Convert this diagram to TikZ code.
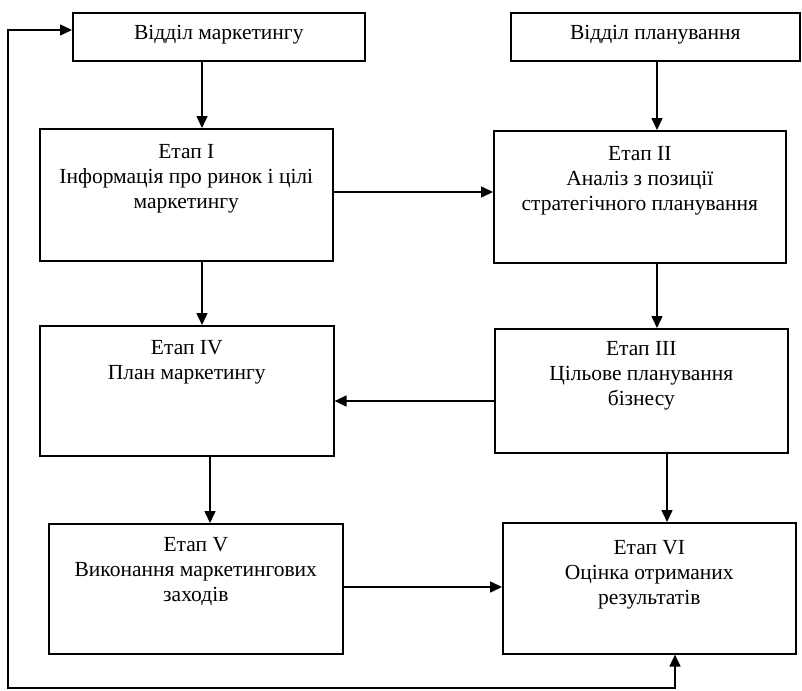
\documentclass[tikz,border=0pt]{standalone}
\usepackage{fontspec}
\setmainfont{Liberation Serif}
\usetikzlibrary{arrows.meta}

% text of a box, set from its top
\newcommand{\boxtext}[4]{\parbox[c][#2][t]{#1}{\centering\rule{0pt}{#3}#4}}

\begin{document}
\begin{tikzpicture}[x=1pt, y=-1pt, line width=1.6pt,
		>={Triangle[length=12pt,width=11pt]},
		font=\fontsize{21.5}{25}\selectfont,
		blk/.style={draw, inner sep=0pt, anchor=north west}]
	\useasboundingbox (0,0) rectangle (802,690);
	% departments
	\node[blk] (mkt) at (72,12) {\boxtext{292pt}{48pt}{27pt}{Відділ маркетингу}};
	\node[blk] (plan) at (510,12) {\boxtext{289pt}{48pt}{27pt}{Відділ планування}};
	% stages
	\node[blk] (e1) at (39,128) {\boxtext{293pt}{132pt}{30pt}{Етап I\\Інформація про ринок і цілі\\маркетингу}};
	\node[blk] (e2) at (493,130) {\boxtext{292pt}{132pt}{30pt}{Етап II\\Аналіз з позиції\\стратегічного планування}};
	\node[blk] (e4) at (39,325) {\boxtext{294pt}{130pt}{29pt}{Етап IV\\План маркетингу}};
	\node[blk] (e3) at (494,328) {\boxtext{293pt}{124pt}{27pt}{Етап III\\Цільове планування\\бізнесу}};
	\node[blk] (e5) at (48,523) {\boxtext{294pt}{130pt}{28pt}{Етап V\\Виконання маркетингових\\заходів}};
	\node[blk] (e6) at (502,522) {\boxtext{293pt}{131pt}{32pt}{Етап VI\\Оцінка отриманих\\результатів}};
	% links
	\draw[->] (mkt.south -| 202,0) -- (e1.north -| 202,0);
	\draw[->] (plan.south -| 657,0) -- (e2.north -| 657,0);
	\draw[->] (e1.east |- 0,192) -- (e2.west |- 0,192);
	\draw[->] (e1.south -| 202,0) -- (e4.north -| 202,0);
	\draw[->] (e2.south -| 657,0) -- (e3.north -| 657,0);
	\draw[->] (e3.west |- 0,401) -- (e4.east |- 0,401);
	\draw[->] (e4.south -| 210,0) -- (e5.north -| 210,0);
	\draw[->] (e3.south -| 667,0) -- (e6.north -| 667,0);
	\draw[->] (e5.east |- 0,587) -- (e6.west |- 0,587);
	% feedback
	\coordinate (fb) at (8,688);
	\draw[<->] (mkt.west |- 0,30) -| (fb) -| (e6.south -| 675,0);
\end{tikzpicture}
\end{document}
